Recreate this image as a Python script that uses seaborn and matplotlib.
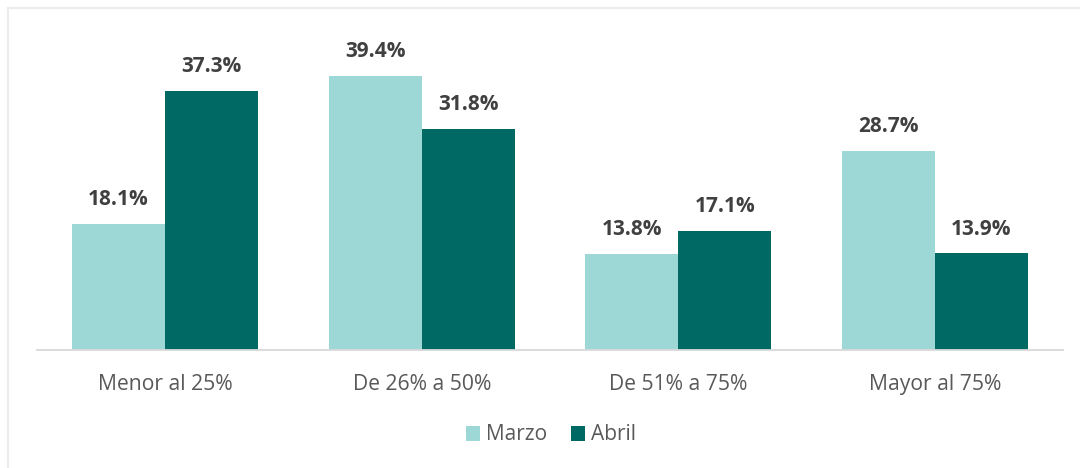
import matplotlib
matplotlib.use("Agg")
import matplotlib.pyplot as plt
import seaborn as sns
import pandas as pd
from matplotlib.patches import Patch
from matplotlib.lines import Line2D

categories = ["Menor al 25%", "De 26% a 50%", "De 51% a 75%", "Mayor al 75%"]
series_names = ["Marzo", "Abril"]
marzo = [18.1, 39.4, 13.8, 28.7]
abril = [37.3, 31.8, 17.1, 13.9]
colors = ["#9dd8d6", "#016964"]

df = pd.DataFrame({
    "cat": categories * 2,
    "serie": [series_names[0]] * 4 + [series_names[1]] * 4,
    "val": marzo + abril,
})

sns.set_theme(style="white")
plt.rcParams["font.family"] = ["Open Sans", "DejaVu Sans"]

fig = plt.figure(figsize=(10.8, 4.68), dpi=100)
ax = fig.add_axes([37/1080, (468-350)/468, (1063-37)/1080, (350-30)/468])

sns.barplot(data=df, x="cat", y="val", hue="serie", palette=colors,
            width=0.727, ax=ax, legend=False, saturation=1, linewidth=0)

ax.set_xlim(-0.5, 3.5)
ax.set_ylim(0, (350-30)/6.95)
ax.set_xlabel("")
ax.set_ylabel("")
ax.set_yticks([])
for s in ["top", "right", "left"]:
    ax.spines[s].set_visible(False)
ax.spines["bottom"].set_color("#d9d9d9")
ax.spines["bottom"].set_linewidth(1.3)
ax.tick_params(axis="x", length=0, pad=17, labelsize=15.2, labelcolor="#595959")

for cont in ax.containers:
    ax.bar_label(cont, labels=[f"{v:.1f}%" for v in cont.datavalues], padding=10,
                 fontsize=15, fontweight="bold", color="#404040")

handles = [Patch(facecolor=c, edgecolor="none") for c in colors]
fig.legend(handles, series_names, loc="center", bbox_to_anchor=(551/1080, 1-435/468),
           ncol=2, frameon=False, fontsize=15, labelcolor="#595959",
           handlelength=0.7, handleheight=0.7, handletextpad=0.3, columnspacing=1.1)

# light frame around chart area
fig.add_artist(Line2D([8/1080, 8/1080], [0, 1-8/468], color="#ececec", lw=1.5))
fig.add_artist(Line2D([8/1080, 1], [1-8/468, 1-8/468], color="#ececec", lw=1.5))

fig.savefig("out.png", dpi=100)
